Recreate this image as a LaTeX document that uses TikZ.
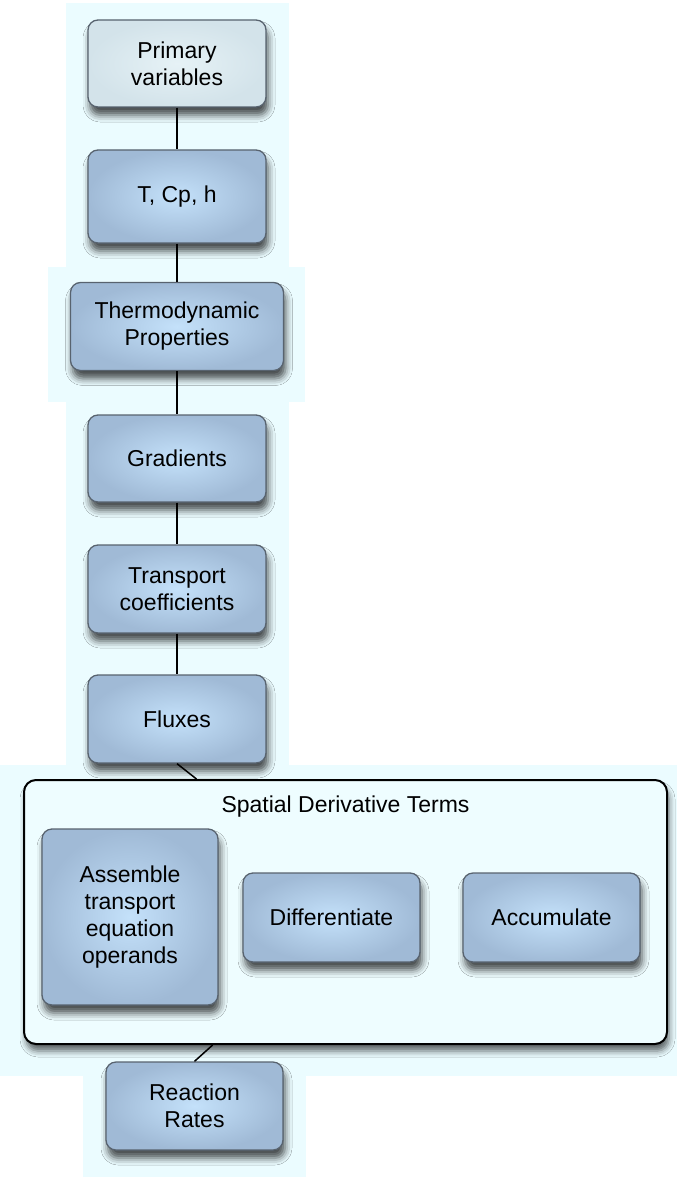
\documentclass[tikz,border=0pt]{standalone}
\usepackage{fontspec}
\setmainfont{Liberation Sans}
\usetikzlibrary{calc,shadows.blur}

\definecolor{halo}{HTML}{EBFCFF}
\definecolor{boxin}{HTML}{C4E1FA}
\definecolor{boxout}{HTML}{A0BAD6}
\definecolor{boxedge}{HTML}{58636F}
\definecolor{pvin}{HTML}{E6F2F6}
\definecolor{pvout}{HTML}{D3E3EA}
\definecolor{groupfill}{HTML}{EEFDFF}

\tikzset{
  stepbox/.style={draw=boxedge, line width=1.3pt, rounded corners=10pt,
    inner color=boxin, outer color=boxout, align=center,
    font=\fontsize{23}{27}\selectfont, text=black,
    blur shadow={shadow xshift=2pt, shadow yshift=-8pt, shadow blur radius=7pt,
      shadow opacity=70}},
  inputbox/.style={stepbox, inner color=pvin, outer color=pvout},
  groupbox/.style={draw=black, line width=2pt, rounded corners=12pt, fill=groupfill,
    blur shadow={shadow xshift=2pt, shadow yshift=-7pt, shadow blur radius=6pt,
      shadow opacity=60}},
  link/.style={draw=black, line width=1.5pt},
}

\begin{document}
\begin{tikzpicture}[x=1pt, y=-1pt]
\useasboundingbox (0,0) rectangle (677,1177);

% pale backdrop behind the chain of steps
\fill[halo] (66,3) rectangle (289,268);
\fill[halo] (48,267) rectangle (305,402);
\fill[halo] (66,401) rectangle (289,766);
\fill[halo] (0,765) rectangle (677,1076);
\fill[halo] (83,1075) rectangle (306,1177);

% group of spatial derivative operations
\node[groupbox, minimum width=643pt, minimum height=264pt] (spatial) at (345.5,912) {};
\node[font=\fontsize{23}{27}\selectfont, anchor=base] (spatialtitle) at (345.5,812) {Spatial Derivative Terms};

% main chain
\node[inputbox, minimum width=178pt, minimum height=87pt] (prim) at (177,63.5) {Primary\\variables};
\node[stepbox, minimum width=178pt, minimum height=93pt] (tcp) at (177,196.5) {T, Cp, h};
\node[stepbox, minimum width=213pt, minimum height=88pt] (thermo) at (177,326.5) {Thermodynamic\\Properties};
\node[stepbox, minimum width=178pt, minimum height=87pt] (grad) at (177,458.5) {Gradients};
\node[stepbox, minimum width=178pt, minimum height=88pt] (trans) at (177,589) {Transport\\coefficients};
\node[stepbox, minimum width=178pt, minimum height=88pt] (flux) at (177,719) {Fluxes};

% inside the group
\node[stepbox, minimum width=176pt, minimum height=176pt] (assem) at (130,917) {Assemble\\transport\\equation\\operands};
\node[stepbox, minimum width=177pt, minimum height=89pt] (diff) at (331.5,917.5) {Differentiate};
\node[stepbox, minimum width=177pt, minimum height=89pt] (accum) at (551.5,917.5) {Accumulate};

\node[stepbox, minimum width=177pt, minimum height=88pt] (react) at (194.5,1106) {Reaction\\Rates};

% connectors
\draw[link] (prim.south) -- (tcp.north);
\draw[link] (tcp.south) -- (thermo.north);
\draw[link] (thermo.south) -- (grad.north);
\draw[link] (grad.south) -- (trans.north);
\draw[link] (trans.south) -- (flux.north);
\draw[link] (flux.south) -- ($(spatial.north west)!0.269!(spatial.north east)$);
\draw[link] ($(spatial.south west)!0.294!(spatial.south east)$) -- (react.north);
\end{tikzpicture}
\end{document}
